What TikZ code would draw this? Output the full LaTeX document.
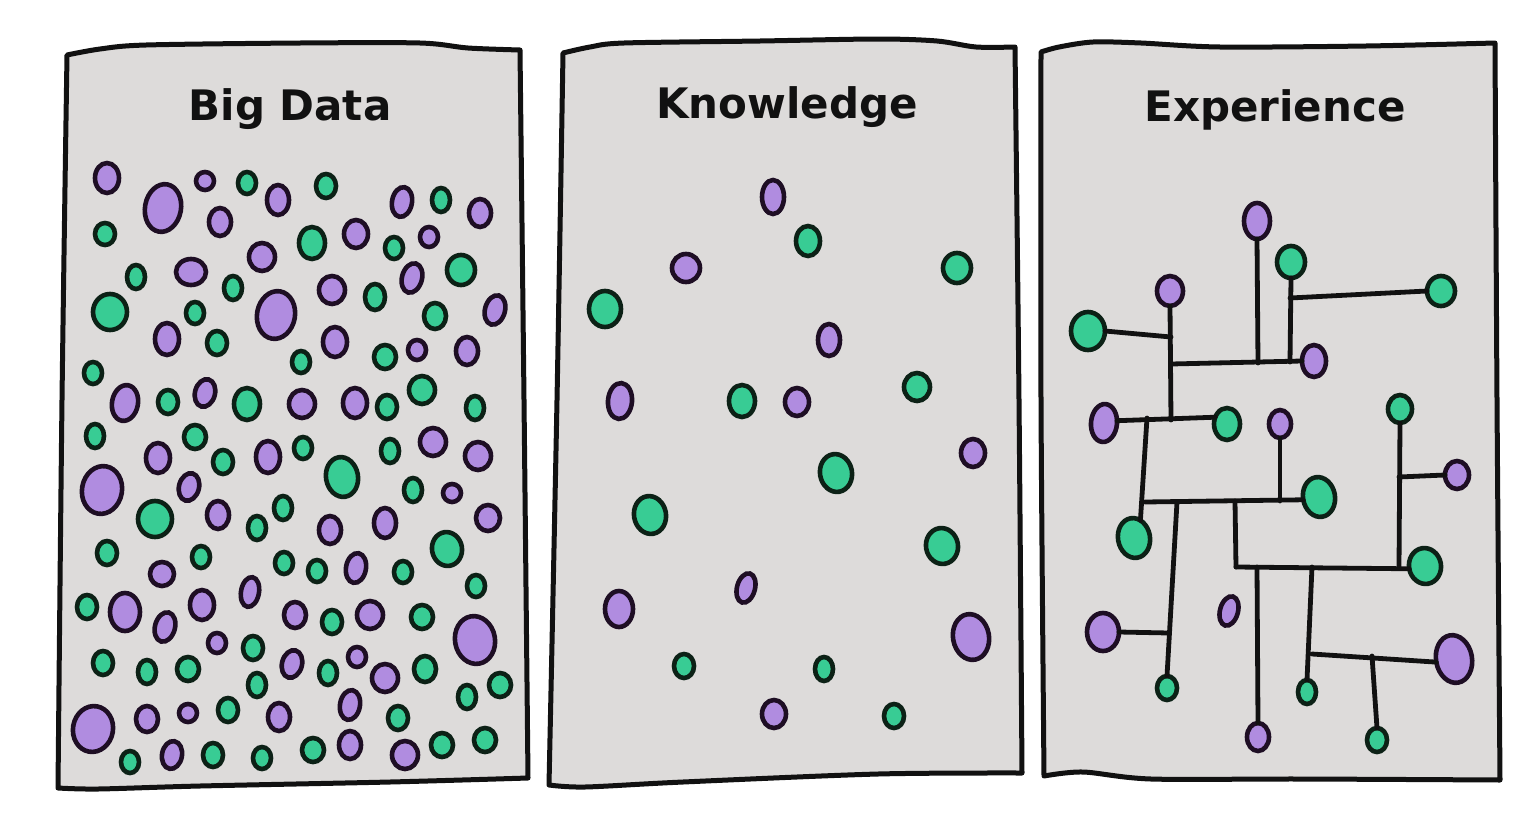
\documentclass[tikz,border=0pt]{standalone}
\usepackage{fontspec}
\setmainfont{DejaVu Sans}
\usetikzlibrary{shapes.geometric}
\definecolor{pfill}{HTML}{B08CE0}
\definecolor{pout}{HTML}{1E0E24}
\definecolor{gfill}{HTML}{38CC94}
\definecolor{gout}{HTML}{0C2116}
\definecolor{panelbg}{HTML}{DDDBDA}
\definecolor{inkc}{HTML}{111111}
\tikzset{
  blob/.style={ellipse, draw=#1out, fill=#1fill, line width=4.6pt, inner sep=0pt, outer sep=0pt},
  panel/.style={draw=inkc, fill=panelbg, line width=5pt, line join=round},
  conn/.style={draw=inkc, line width=4.8pt, line cap=round},
  title/.style={anchor=base, font=\bfseries\fontsize{42}{42}\selectfont, text=inkc, inner sep=0pt}
}
\newcommand\blobat[7]{\node[blob=#7, minimum width={2*#4-4}, minimum height={2*#5-4}, rotate=#6] (#1) at (#2,#3) {};}
\begin{document}
\begin{tikzpicture}[x=1pt,y=-1pt]
\useasboundingbox (0,0) rectangle (1529,817);
\fill[white] (0,0) rectangle (1529,817);
% panels
\draw[panel] plot[smooth] coordinates {(67,55) (100,49) (146,45) (300,43) (420,43) (468,48) (520,50)}
  -- plot[smooth] coordinates {(520,50) (524,400) (528,778)}
  -- plot[smooth] coordinates {(528,778) (390,782) (200,786) (98,789) (58,788)}
  -- plot[smooth] coordinates {(58,788) (62,400) (67,55)} -- cycle;
\draw[panel] plot[smooth] coordinates {(563,53) (590,47) (624,43) (760,41) (878,39) (937,41) (976,47) (1015,47)}
  -- plot[smooth] coordinates {(1015,47) (1019,400) (1022,773)}
  -- plot[smooth] coordinates {(1022,773) (878,774) (683,782) (585,787) (549,785)}
  -- plot[smooth] coordinates {(549,785) (557,400) (563,53)} -- cycle;
\draw[panel] plot[smooth] coordinates {(1041,52) (1059,47) (1093,42) (1141,43) (1220,47) (1366,46) (1495,43)}
  -- plot[smooth] coordinates {(1495,43) (1497,400) (1500,780)}
  -- plot[smooth] coordinates {(1500,780) (1300,779) (1151,779) (1083,772) (1044,776)}
  -- plot[smooth] coordinates {(1044,776) (1041,400) (1041,52)} -- cycle;
% titles
\node[title] (t1) at (290,120) {Big Data};
\node[title] (t2) at (787,118) {Knowledge};
\node[title] (t3) at (1275,121) {Experience};
% Big Data blobs
\foreach \x/\y/\a/\b/\r/\c [count=\i] in {
107/178/14/17/0/p, 163/208/20/26/-10/p, 205/181/11/11/0/p, 247/183/11/13/0/g, 278/200/13/17/0/p,
326/186/12/14/0/g, 402/202/12/17/-10/p, 441/200/11/14/0/g, 480/213/13/16/0/p, 105/234/12/13/0/g,
220/222/13/16/0/p, 312/243/15/18/0/g, 356/234/14/16/0/p, 394/248/11/13/0/g, 429/237/11/12/0/p,
136/277/11/14/0/g, 191/272/17/15/0/p, 262/257/15/16/0/p, 233/288/11/14/0/g, 412/278/12/17/-15/p,
461/270/16/17/0/g, 110/312/19/20/0/g, 195/313/11/13/0/g, 276/315/21/26/-10/p, 167/339/14/18/0/p,
217/343/12/14/0/g, 332/290/15/16/0/p, 375/297/12/15/0/g, 435/316/13/15/0/g, 495/310/12/17/-15/p,
335/342/14/17/0/p, 301/362/11/13/0/g, 385/357/13/14/0/g, 417/350/11/12/0/p, 467/351/13/16/0/p,
93/373/11/13/0/g, 125/403/15/20/-10/p, 168/402/12/14/0/g, 205/393/12/16/-15/p, 247/404/15/18/0/g,
95/436/11/14/0/g, 195/437/13/14/0/g, 158/458/14/17/0/p, 223/462/12/14/0/g, 268/457/14/18/0/p,
102/490/22/26/-10/p, 189/487/12/16/-15/p, 155/519/19/20/0/g, 218/515/13/16/0/p, 257/528/11/14/0/g,
283/508/11/14/0/g, 107/553/12/14/0/g, 201/557/11/13/0/g, 302/404/15/16/0/p, 355/403/14/17/0/p,
387/407/12/14/0/g, 422/390/15/16/0/g, 475/408/11/14/0/g, 303/448/11/13/0/g, 390/451/11/14/0/g,
433/442/15/16/0/p, 478/456/15/16/0/p, 342/477/18/22/10/g, 413/490/11/14/0/g, 452/493/11/11/0/p,
330/530/13/16/0/p, 385/523/13/17/0/p, 488/518/14/15/0/p, 447/549/17/19/10/g, 284/563/11/13/0/g,
317/571/11/13/0/g, 356/568/12/17/-10/p, 403/572/11/13/0/g, 476/586/11/13/0/g, 162/574/14/14/0/p,
87/607/12/14/0/g, 125/612/17/21/0/p, 165/627/12/17/-15/p, 202/605/14/17/0/p, 250/592/11/17/-10/p,
217/643/11/12/0/p, 253/648/12/14/0/g, 103/663/12/14/0/g, 147/672/11/14/0/g, 188/669/13/14/0/g,
257/685/11/14/0/g, 93/729/22/25/-10/p, 147/719/13/15/0/p, 188/713/11/11/0/p, 228/710/12/14/0/g,
279/717/13/16/0/p, 130/762/11/13/0/g, 172/755/12/16/-10/p, 213/755/12/14/0/g, 262/758/11/13/0/g,
295/615/13/15/0/p, 332/622/12/14/0/g, 370/615/15/16/0/p, 422/617/13/14/0/g, 475/640/22/26/10/p,
292/664/12/16/-15/p, 328/673/11/14/0/g, 357/657/11/12/0/p, 385/678/15/16/0/p, 425/669/13/15/0/g,
500/685/13/14/0/g, 467/697/11/14/0/g, 350/705/12/17/-10/p, 398/718/12/14/0/g, 313/750/13/14/0/g,
350/745/13/16/0/p, 405/755/15/16/0/p, 442/745/13/14/0/g, 485/740/13/14/0/g}
{\blobat{d\i}{\x}{\y}{\a}{\b}{\r}{\c}}
% Knowledge blobs
\foreach \x/\y/\a/\b/\r/\c [count=\i] in {
773/197/13/19/0/p, 808/241/14/17/0/g, 686/268/16/16/0/p, 957/268/16/17/0/g, 605/309/18/20/0/g,
829/340/13/18/0/p, 917/387/15/16/0/g, 620/401/14/20/-5/p, 742/401/15/18/0/g, 797/402/14/16/0/p,
973/453/14/16/0/p, 836/473/18/21/10/g, 650/515/18/21/10/g, 942/546/18/20/10/g, 746/588/11/17/-15/p,
619/609/16/20/0/p, 971/637/20/25/10/p, 684/666/12/14/0/g, 824/669/11/14/0/g, 774/714/14/16/0/p,
894/716/12/14/0/g}
{\blobat{k\i}{\x}{\y}{\a}{\b}{\r}{\c}}
% Experience blobs
\blobat{e1}{1257}{221}{15}{20}{0}{p}
\blobat{e2}{1291}{262}{16}{18}{0}{g}
\blobat{e3}{1170}{291}{15}{17}{0}{p}
\blobat{e4}{1441}{291}{16}{17}{0}{g}
\blobat{e5}{1088}{331}{19}{21}{0}{g}
\blobat{e6}{1314}{361}{14}{18}{0}{p}
\blobat{e7}{1104}{423}{15}{21}{-5}{p}
\blobat{e8}{1227}{424}{15}{18}{0}{g}
\blobat{e9}{1280}{424}{13}{16}{0}{p}
\blobat{e10}{1400}{409}{14}{16}{0}{g}
\blobat{e11}{1457}{475}{14}{16}{0}{p}
\blobat{e12}{1319}{497}{18}{22}{10}{g}
\blobat{e13}{1134}{538}{18}{22}{10}{g}
\blobat{e14}{1425}{566}{18}{20}{10}{g}
\blobat{e15}{1229}{611}{11}{17}{-15}{p}
\blobat{e16}{1103}{632}{18}{21}{0}{p}
\blobat{e17}{1454}{659}{20}{26}{10}{p}
\blobat{e18}{1167}{688}{12}{14}{0}{g}
\blobat{e19}{1307}{692}{11}{14}{0}{g}
\blobat{e20}{1258}{737}{13}{16}{0}{p}
\blobat{e21}{1377}{740}{12}{14}{0}{g}
% junctions
\coordinate (j1) at (1258,363);
\coordinate (j2) at (1290,362);
\coordinate (j3) at (1290,298);
\coordinate (h1s) at (1171,364);
\coordinate (v1e) at (1171,420);
\coordinate (j5) at (1171,337);
\coordinate (j4) at (1147,418);
\coordinate (h2s) at (1145,502);
\coordinate (j7) at (1177,502);
\coordinate (j8) at (1169,633);
\coordinate (j9) at (1235,501);
\coordinate (j10) at (1236,567);
\coordinate (j11) at (1257,567);
\coordinate (j12) at (1312,567);
\coordinate (j13) at (1312,654);
\coordinate (j14) at (1372,656);
\coordinate (j15) at (1399,567);
\coordinate (j16) at (1399,477);
% connectors
\draw[conn] (e1.south) -- (j1);
\draw[conn] (e2.south) -- (j2);
\draw[conn] (j3) -- (e4.west);
\draw[conn] (h1s) -- (e6.west);
\draw[conn] (e3.south) -- (v1e);
\draw[conn] (e5.east) -- (j5);
\draw[conn] (e7.15) -- (e8.150);
\draw[conn] (j4) -- (e13.60);
\draw[conn] (h2s) -- (e12.west);
\draw[conn] (e9.south) -- (e9.south |- j9);
\draw[conn] (j7) -- (e18.north);
\draw[conn] (e16.east) -- (j8);
\draw[conn] (j9) -- (j10);
\draw[conn] (j10) -- (e14.west);
\draw[conn] (j11) -- (e20.north);
\draw[conn] (j12) -- (e19.north);
\draw[conn] (j13) -- (e17.west);
\draw[conn] (j14) -- (e21.north);
\draw[conn] (e10.south) -- (j15);
\draw[conn] (j16) -- (e11.west);
\end{tikzpicture}
\end{document}
